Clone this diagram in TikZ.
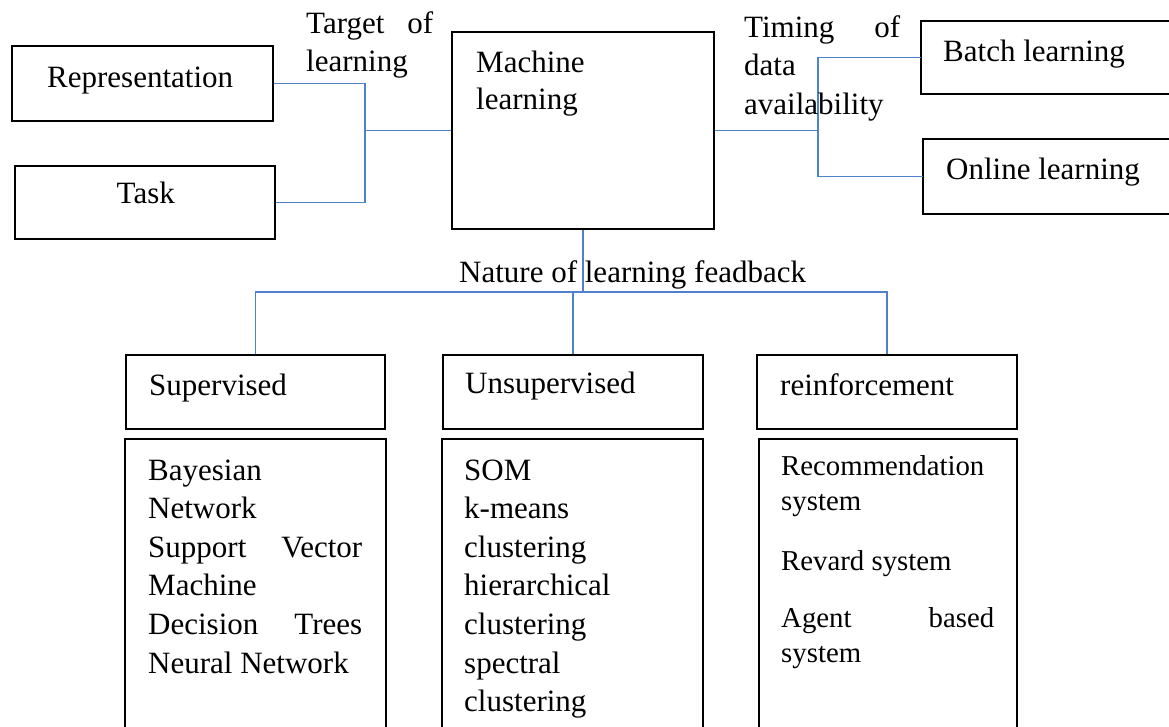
\documentclass[tikz,border=0pt]{standalone}
\usepackage{fontspec}
\setmainfont{Liberation Serif}
\definecolor{linkblue}{RGB}{79,129,205}
\tikzset{
  frame/.style={draw=black, line width=2.2pt, inner sep=0pt},
  openframe/.style={draw=none, inner sep=0pt},
  frameline/.style={draw=black, line width=2.2pt},
  link/.style={draw=linkblue, line width=1.5pt},
  txt/.style={anchor=base west, inner sep=0pt, font=\fontsize{31}{38.6}\selectfont},
  smalltxt/.style={anchor=base west, inner sep=0pt, font=\fontsize{28.8}{35}\selectfont},
}
% a line spread over a fixed width, first word left, last word right
\newcommand{\spreadline}[3]{\makebox[#1][l]{#2\hfill #3}}
\begin{document}
\begin{tikzpicture}[x=1pt,y=-1pt]
\useasboundingbox (0,0) rectangle (1169,727);

% ---- boxes ----
\node[frame, minimum width=261pt, minimum height=75pt] (rep) at (142.5,83.5) {};
\node[frame, minimum width=260pt, minimum height=73pt] (task) at (145,202.5) {};
\node[frame, minimum width=262pt, minimum height=197pt] (ml) at (583,130.5) {};
\node[openframe, minimum width=252pt, minimum height=73pt] (batch) at (1047,57.5) {};
\node[openframe, minimum width=250pt, minimum height=75pt] (online) at (1048,176.5) {};
\node[frame, minimum width=259pt, minimum height=74pt] (sup) at (255.5,392) {};
\node[frame, minimum width=260pt, minimum height=74pt] (unsup) at (573,392) {};
\node[frame, minimum width=260pt, minimum height=74pt] (reinf) at (887,392) {};
\node[openframe, minimum width=261pt, minimum height=292pt] (suplist) at (255.5,585) {};
\node[openframe, minimum width=261pt, minimum height=292pt] (unsuplist) at (572.5,585) {};
\node[openframe, minimum width=258pt, minimum height=292pt] (reinflist) at (888,585) {};

% boxes running off the page edge: three sides only
\draw[frameline] (batch.north east) -- (batch.north west) -- (batch.south west) -- (batch.south east);
\draw[frameline] (online.north east) -- (online.north west) -- (online.south west) -- (online.south east);
\draw[frameline] (suplist.south west) -- (suplist.north west) -- (suplist.north east) -- (suplist.south east);
\draw[frameline] (unsuplist.south west) -- (unsuplist.north west) -- (unsuplist.north east) -- (unsuplist.south east);
\draw[frameline] (reinflist.south west) -- (reinflist.north west) -- (reinflist.north east) -- (reinflist.south east);

% ---- connectors ----
\coordinate (jl) at (365,130.5);
\coordinate (jr) at (818,130.5);
\coordinate (jb) at (583,292);
\draw[link] (rep.east) -| (jl) |- (task.east);
\draw[link] (jl) -- (ml.west);
\draw[link] (ml.east) -- (jr);
\draw[link] (batch.west) -| (jr) |- (online.west);
\draw[link] (ml.south) -- (jb);
\draw[link] (sup.north) |- (jb) -| (reinf.north);
\draw[link] (unsup.north) -- (unsup.north |- jb);

% ---- labels ----
\node[txt] (t-rep) at (47,87.3) {Representation};
\node[txt] (t-task) at (116.5,204) {Task};
\node[txt] (t-target) at (306,33.3) {\parbox[t]{200pt}{\spreadline{127pt}{Target}{of}\\learning}};
\node[txt] (t-ml) at (476,72.3) {\parbox[t]{200pt}{Machine\\[-1.6pt]learning}};
\node[txt] (t-timing) at (744,37.3) {\parbox[t]{200pt}{\spreadline{156pt}{Timing}{of}\\data\\availability}};
\node[txt] (t-batch) at (943,61.7) {Batch learning};
\node[txt] (t-online) at (946,180) {Online learning};
\node[txt] (t-nature) at (459,283) {Nature of learning feadback};
\node[txt] (t-sup) at (149,395) {Supervised};
\node[txt] (t-unsup) at (465,393.3) {Unsupervised};
\node[txt] (t-reinf) at (780,395) {reinforcement};

\node[txt] (t-suplist) at (148,480) {\parbox[t]{230pt}{Bayesian\\Network\\\spreadline{214pt}{Support}{Vector}\\Machine\\\spreadline{214pt}{Decision}{Trees}\\Neural Network}};
\node[txt] (t-unsuplist) at (464,480) {\parbox[t]{230pt}{SOM\\k-means\\clustering\\hierarchical\\clustering\\spectral\\clustering}};
\node[smalltxt] (t-reinflist) at (781,475) {\parbox[t]{230pt}{Recommendation\\system\\[25pt]Revard system\\[22pt]\spreadline{213pt}{Agent}{based}\\system}};
\end{tikzpicture}
\end{document}
